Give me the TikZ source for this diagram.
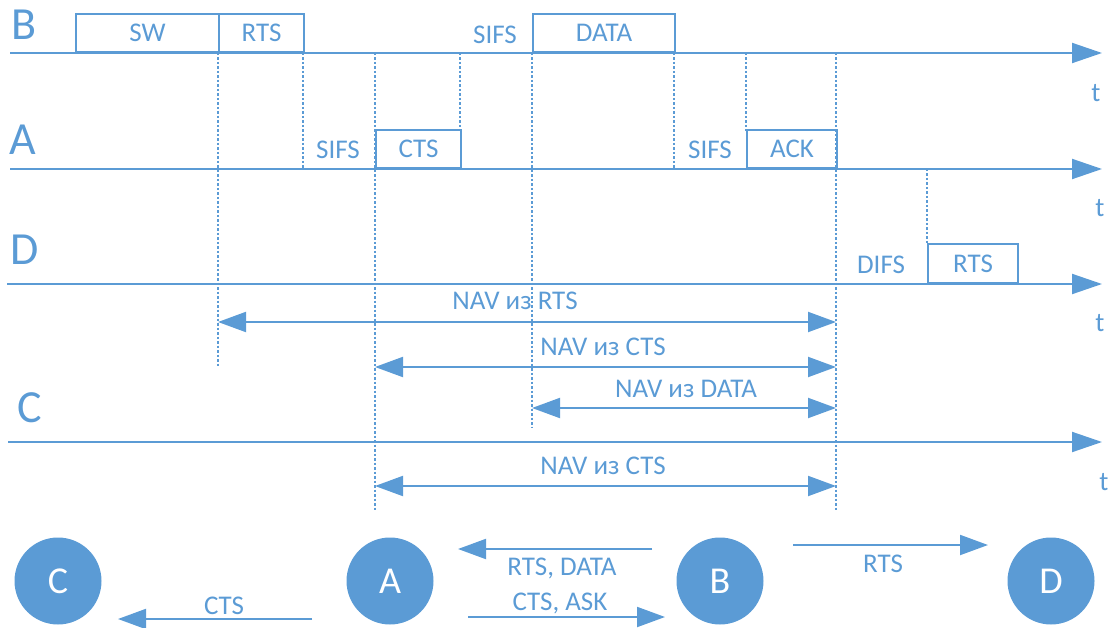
\documentclass[tikz,border=0pt]{standalone}
\usepackage{fontspec}
\setmainfont{Carlito}
\usetikzlibrary{arrows.meta}
\definecolor{wblue}{HTML}{5B9BD5}
\tikzset{
  axis/.style={wblue, line width=2pt, -{Triangle[length=30pt,width=20pt]}},
  frame/.style={draw=wblue, line width=2pt, inner sep=0pt, text=wblue, font=\fontsize{27}{30}\selectfont, anchor=south west},
  guide/.style={wblue, line width=1.3pt, dash pattern=on 2.5pt off 2pt},
  navarrow/.style={wblue, line width=2pt, {Triangle[length=28pt,width=20pt]}-{Triangle[length=28pt,width=20pt]}},
  msg/.style={wblue, line width=2pt, -{Triangle[length=28pt,width=20pt]}},
  lbl/.style={text=wblue, font=\fontsize{27}{30}\selectfont, inner sep=0pt},
  big/.style={text=wblue, font=\fontsize{46}{50}\selectfont, inner sep=0pt},
  station/.style={circle, fill=wblue, minimum size=87pt, inner sep=0pt, text=white, font=\fontsize{38}{42}\selectfont}
}
\begin{document}
\begin{tikzpicture}[x=1pt,y=-1pt]
\useasboundingbox (0,0) rectangle (1110,628);

% station names on the time axes
\node[big] (nB) at (24,25) {B};
\node[big] (nA) at (23,140) {A};
\node[big] (nD) at (25,250) {D};
\node[big] (nC) at (30,408) {C};

% time axes
\coordinate (Bs) at (10,53);  \coordinate (Be) at (1102,53);
\coordinate (As) at (10,169); \coordinate (Ae) at (1102,169);
\coordinate (Ds) at (7,284);  \coordinate (De) at (1102,284);
\coordinate (Cs) at (8,442);  \coordinate (Ce) at (1102,442);

% dotted time marks
\coordinate (g1t) at (218,53);  \coordinate (g1b) at (218,366);
\coordinate (g2t) at (303,53);  \coordinate (g2b) at (303,169);
\coordinate (g3t) at (375,53);  \coordinate (g3b) at (375,510);
\coordinate (g4t) at (460,53);  \coordinate (g4b) at (460,131);
\coordinate (g5t) at (532,53);  \coordinate (g5b) at (532,428);
\coordinate (g6t) at (674,53);  \coordinate (g6b) at (674,169);
\coordinate (g7t) at (746,53);  \coordinate (g7b) at (746,131);
\coordinate (g8t) at (836,53);  \coordinate (g8b) at (836,510);
\coordinate (g9t) at (927,169); \coordinate (g9b) at (927,245);
\foreach \i in {1,...,9} \draw[guide] (g\i t) -- (g\i b);

\draw[axis] (Bs) -- (Be);
\draw[axis] (As) -- (Ae);
\draw[axis] (Ds) -- (De);
\draw[axis] (Cs) -- (Ce);

\node[lbl] (t1) at (1096,93) {t};
\node[lbl] (t2) at (1100,208) {t};
\node[lbl] (t3) at (1100,323) {t};
\node[lbl] (t4) at (1104,482) {t};

% frames on B
\node[frame, minimum width=143pt, minimum height=38pt] (sw) at (75,53) {SW};
\node[frame, minimum width=85pt, minimum height=38pt] (rtsB) at (218,53) {RTS};
\node[lbl] (sifs1) at (495,35) {SIFS};
\node[frame, minimum width=142pt, minimum height=38pt] (data) at (532,53) {DATA};

% frames on A
\node[lbl] (sifs2) at (338,150) {SIFS};
\node[frame, minimum width=85pt, minimum height=38pt] (cts) at (375,169) {CTS};
\node[lbl] (sifs3) at (710,150) {SIFS};
\node[frame, minimum width=90pt, minimum height=38pt] (ack) at (746,169) {ACK};

% frames on D
\node[lbl] (difs) at (881,265) {DIFS};
\node[frame, minimum width=90pt, minimum height=39pt] (rtsD) at (927,284) {RTS};

% NAV intervals
\coordinate (n1a) at (218,322); \coordinate (n1b) at (836,322);
\draw[navarrow] (n1a) -- (n1b);
\node[lbl] (l1) at (515,301) {NAV из RTS};
\coordinate (n2a) at (375,367); \coordinate (n2b) at (836,367);
\draw[navarrow] (n2a) -- (n2b);
\node[lbl] (l2) at (603,347) {NAV из CTS};
\coordinate (n3a) at (532,408); \coordinate (n3b) at (836,408);
\draw[navarrow] (n3a) -- (n3b);
\node[lbl] (l3) at (686,389) {NAV из DATA};
\coordinate (n4a) at (375,486); \coordinate (n4b) at (836,486);
\draw[navarrow] (n4a) -- (n4b);
\node[lbl] (l4) at (603,466) {NAV из CTS};

% stations
\node[station] (sC) at (58,581) {C};
\node[station] (sA) at (390,581) {A};
\node[station] (sB) at (720,581) {B};
\node[station] (sD) at (1051,581) {D};

% exchanged frames
\coordinate (m1a) at (312,619); \coordinate (m1b) at (118,619);
\draw[msg] (m1a) -- (m1b);
\node[lbl] (ml1) at (224,606) {CTS};
\coordinate (m2a) at (652,549); \coordinate (m2b) at (458,549);
\draw[msg] (m2a) -- (m2b);
\node[lbl] (ml2) at (562,568) {RTS, DATA};
\coordinate (m3a) at (468,617); \coordinate (m3b) at (665,617);
\draw[msg] (m3a) -- (m3b);
\node[lbl] (ml3) at (560,603) {CTS, ASK};
\coordinate (m4a) at (793,545); \coordinate (m4b) at (988,545);
\draw[msg] (m4a) -- (m4b);
\node[lbl] (ml4) at (883,564) {RTS};
\end{tikzpicture}
\end{document}
